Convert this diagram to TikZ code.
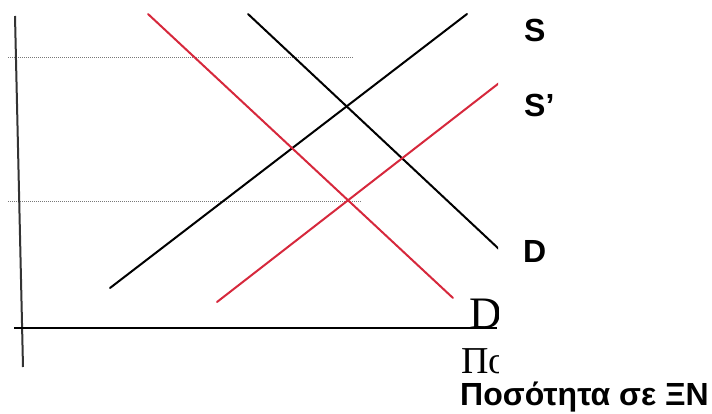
\documentclass[tikz,border=0pt]{standalone}
\usepackage{fontspec}
\setmainfont{Liberation Serif}
\newfontfamily\labelfont{Liberation Sans}
\usepackage{tikz}
\usetikzlibrary{positioning,calc}
\definecolor{curvered}{RGB}{214,40,60}
\definecolor{guidegray}{RGB}{120,120,120}

\begin{document}
\begin{tikzpicture}[x=1pt,y=-1pt,
  curve/.style={line width=2pt,line cap=round},
  shifted/.style={curve,draw=curvered},
  guide/.style={draw=guidegray,line width=1pt,densely dotted},
  axis/.style={line width=2pt},
  lbl/.style={font=\labelfont\bfseries\fontsize{32}{38}\selectfont,inner sep=0pt,anchor=base west},
  scan/.style={font=\fontsize{45}{50}\selectfont,inner sep=0pt,anchor=base west}]
\useasboundingbox (0,0) rectangle (712,414);
% end points
\coordinate (yTop) at (15,16);\coordinate (yBot) at (23,367);
\coordinate (xL) at (14,328);\coordinate (xR) at (497,328);
\coordinate (S0) at (110,288);\coordinate (S1) at (467,14);
\coordinate (Sp0) at (217,302);\coordinate (Sp1) at (503,80);
\coordinate (D0) at (248,14);\coordinate (D1) at (500,250);
\coordinate (Dp0) at (148,14);\coordinate (Dp1) at (453,298);
\coordinate (gHi0) at (8,58);\coordinate (gHi1) at (353,58);
\coordinate (gLo0) at (8,202);\coordinate (gLo1) at (362,202);
\begin{scope}
\clip (0,0) rectangle (498,414);
\draw[guide] (gHi0)--(gHi1);\draw[guide] (gLo0)--(gLo1);
\draw[axis,draw=black!80] (yTop)--(yBot);
\draw[axis] (xL)--(xR);
\draw[curve] (S0)--(S1);\draw[curve] (D0)--(D1);
\draw[shifted] (Sp0)--(Sp1);\draw[shifted] (Dp0)--(Dp1);
\node[scan] (Dprime) at (469,328) {D’};
\node[scan,font=\fontsize{38}{42}\selectfont] (qtyCut) at (461,373) {Ποσότητα};
\end{scope}
\node[lbl] (Slab) at (524,42) {S};
\node[lbl] (Splab) at (524,117) {S’};
\node[lbl] (Dlab) at (523,262) {D};
\node[lbl] (qty) at (460,405) {Ποσότητα σε ΞΝ};
\end{tikzpicture}
\end{document}
